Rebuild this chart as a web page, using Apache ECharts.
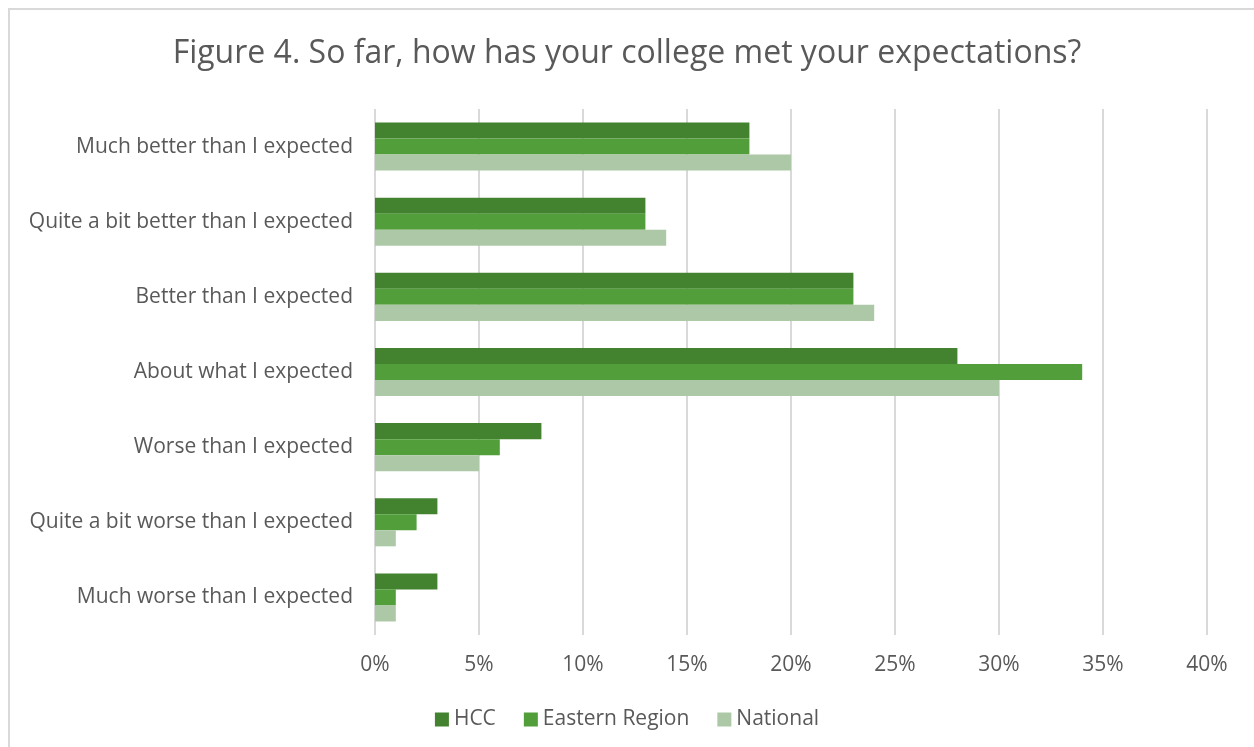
<!DOCTYPE html>
<html>
<head>
<meta charset="utf-8">
<script src="https://cdn.jsdelivr.net/npm/echarts@6/dist/echarts.min.js"></script>
<style>
  html, body { margin: 0; padding: 0; background: #ffffff; }
  #chart { width: 1254px; height: 747px; }
</style>
</head>
<body>
<div id="chart"></div>
<script>
// Survey response categories, top to bottom
const categories = [
  'Much better than I expected',
  'Quite a bit better than I expected',
  'Better than I expected',
  'About what I expected',
  'Worse than I expected',
  'Quite a bit worse than I expected',
  'Much worse than I expected'
];

// Percent of respondents per group
const hcc = [18, 13, 23, 28, 8, 3, 3];
const easternRegion = [18, 13, 23, 34, 6, 2, 1];
const national = [20, 14, 24, 30, 5, 1, 1];

const seriesNames = ['HCC', 'Eastern Region', 'National'];
const seriesColors = ['#43822f', '#529e3a', '#adc8a7'];
const seriesData = [hcc, easternRegion, national];

const textColor = '#595959';
const fontFamily = '"Open Sans", "Liberation Sans", sans-serif';

const chart = echarts.init(document.getElementById('chart'));

chart.setOption({
  animation: false,
  backgroundColor: '#ffffff',
  title: {
    text: 'Figure 4. So far, how has your college met your expectations?',
    left: 'center',
    top: 33,
    textStyle: { color: textColor, fontSize: 32, fontWeight: 'normal', fontFamily: fontFamily }
  },
  legend: {
    bottom: 12,
    left: 'center',
    itemWidth: 14,
    itemHeight: 14,
    itemGap: 28,
    icon: 'rect',
    textStyle: { color: textColor, fontSize: 21, fontFamily: fontFamily },
    data: seriesNames
  },
  grid: {
    left: 375,
    right: 47,
    top: 109,
    bottom: 112,
    containLabel: false
  },
  xAxis: {
    type: 'value',
    min: 0,
    max: 40,
    interval: 5,
    axisLine: { show: false },
    axisTick: { show: false },
    axisLabel: {
      color: textColor,
      fontSize: 21,
      fontFamily: fontFamily,
      margin: 20,
      formatter: v => v + '%'
    },
    splitLine: { show: true, lineStyle: { color: '#d9d9d9', width: 2 } }
  },
  yAxis: {
    type: 'category',
    inverse: true,
    data: categories,
    axisLine: { show: false },
    axisTick: { show: false },
    axisLabel: { color: textColor, fontSize: 21, fontFamily: fontFamily, margin: 22 }
  },
  series: seriesNames.map((name, i) => ({
    name: name,
    type: 'bar',
    data: seriesData[i],
    barGap: '0%',
    barCategoryGap: '36%',
    itemStyle: { color: seriesColors[i] }
  })),
  graphic: [{
    type: 'rect',
    shape: { x: 9, y: 9, width: 1270, height: 770 },
    style: { fill: 'none', stroke: '#d9d9d9', lineWidth: 2 },
    silent: true
  }]
});
</script>
</body>
</html>
